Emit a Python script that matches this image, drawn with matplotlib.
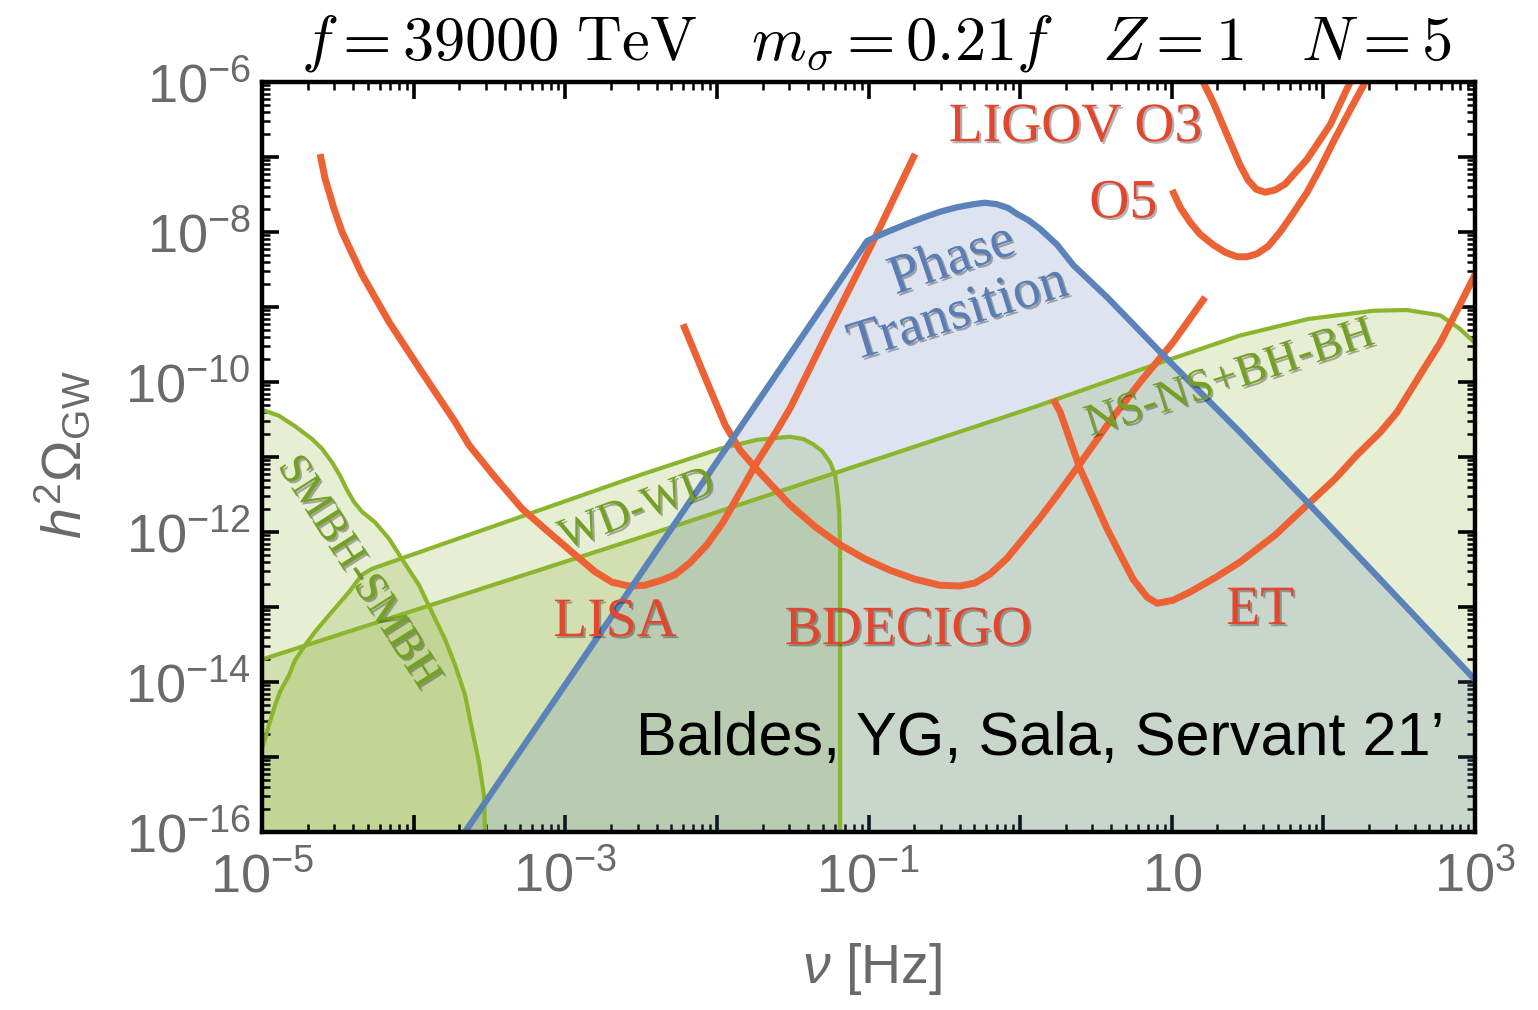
import numpy as np
import matplotlib
matplotlib.use("Agg")
import matplotlib.pyplot as plt
import matplotlib.patheffects as pe
from matplotlib.ticker import FixedLocator, FixedFormatter, LogLocator, NullFormatter

plt.rcParams['font.family'] = ['Liberation Sans', 'DejaVu Sans']
plt.rcParams['mathtext.fontset'] = 'custom'
plt.rcParams['mathtext.rm'] = 'Liberation Sans'
plt.rcParams['mathtext.it'] = 'Liberation Sans:italic'
plt.rcParams['mathtext.bf'] = 'Liberation Sans:bold'

# ---- detector sensitivity curves: log10(f/Hz), log10(h^2 Omega_GW) ----
lisa_logf = [-4.617, -4.584, -4.525, -4.472, -4.340, -4.162, -3.945, -3.727, -3.635, -3.463,
             -3.285, -3.133, -2.955, -2.803, -2.691, -2.579, -2.474, -2.361, -2.276, -2.177,
             -2.065, -1.959, -1.847, -1.735, -1.629, -1.517, -1.273, -0.970, -0.693]
lisa_logo = [-6.96, -7.29, -7.69, -8.00, -8.57, -9.20, -9.87, -10.53, -10.84, -11.27,
             -11.69, -11.96, -12.27, -12.53, -12.67, -12.72, -12.71, -12.64, -12.57, -12.41,
             -12.17, -11.87, -11.47, -11.07, -10.73, -10.35, -9.35, -8.13, -6.96]

bdecigo_logf = [-2.223, -2.065, -1.946, -1.847, -1.735, -1.517, -1.352, -1.187, -1.022, -0.858,
                -0.693, -0.528, -0.396, -0.297, -0.198, -0.086, 0.020, 0.132, 0.244, 0.416,
                0.594, 0.792, 1.009, 1.220]
bdecigo_logo = [-9.23, -10.00, -10.57, -10.91, -11.17, -11.64, -11.93, -12.17, -12.36, -12.51,
                -12.63, -12.71, -12.72, -12.68, -12.56, -12.35, -12.09, -11.81, -11.51, -11.03,
                -10.52, -10.00, -9.47, -8.87]

et_logf = [0.218, 0.264, 0.396, 0.574, 0.745, 0.838, 0.904, 1.009, 1.121, 1.286, 1.451,
           1.682, 1.893, 2.078, 2.223, 2.375, 2.487, 2.658, 2.770, 2.883, 3.000]
et_logo = [-10.23, -10.40, -11.16, -11.96, -12.63, -12.87, -12.95, -12.91, -12.80, -12.61,
           -12.40, -12.04, -11.64, -11.29, -10.97, -10.67, -10.40, -9.84, -9.48, -9.04, -8.57]

o3_logf = [1.207, 1.273, 1.366, 1.451, 1.504, 1.557, 1.616, 1.682, 1.748, 1.893, 2.045, 2.177]
o3_logo = [-6.00, -6.27, -6.71, -7.11, -7.31, -7.43, -7.47, -7.44, -7.36, -7.03, -6.57, -6.00]

o5_logf = [1.003, 1.055, 1.121, 1.187, 1.273, 1.352, 1.431, 1.497, 1.563, 1.636, 1.715,
           1.801, 1.893, 1.979, 2.065, 2.177, 2.276]
o5_logo = [-7.44, -7.67, -7.87, -8.03, -8.17, -8.27, -8.33, -8.33, -8.29, -8.19, -8.00,
           -7.75, -7.47, -7.15, -6.80, -6.37, -6.00]

# ---- phase-transition signal ----
pt_logf = [-3.661, -1.009, -0.890, -0.745, -0.627, -0.528, -0.416, -0.310, -0.231, -0.152,
           -0.079, -0.020, 0.053, 0.132, 0.244, 0.350, 0.574, 0.943, 1.451, 1.893, 3.000]
pt_logo = [-16.00, -8.12, -8.01, -7.89, -7.80, -7.73, -7.67, -7.63, -7.61, -7.63,
           -7.68, -7.76, -7.84, -7.96, -8.17, -8.44, -8.87, -9.64, -10.67, -11.60, -13.97]

# ---- astrophysical foregrounds ----
smbh_logf = [-5.000, -4.888, -4.782, -4.670, -4.604, -4.538, -4.485, -4.439, -4.393, -4.340,
             -4.255, -4.162, -4.077, -3.964, -3.879, -3.793, -3.727, -3.661, -3.615, -3.569,
             -3.536, -3.529]
smbh_logo = [-10.37, -10.45, -10.59, -10.76, -10.89, -11.07, -11.25, -11.44, -11.60, -11.73,
             -11.87, -12.09, -12.36, -12.71, -13.07, -13.43, -13.77, -14.17, -14.63, -15.07,
             -15.51, -16.00]

wd_logf = [-5.000, -4.980, -4.954, -4.914, -4.881, -4.822, -4.782, -4.716, -4.650, -4.558,
           -4.426, -4.340, -4.274, -2.507, -1.979, -1.735, -1.517, -1.431, -1.365, -1.306,
           -1.253, -1.220, -1.207, -1.194, -1.187, -1.187]
wd_logo = [-14.89, -14.76, -14.57, -14.31, -14.13, -13.91, -13.71, -13.51, -13.33, -13.11,
           -12.80, -12.57, -12.49, -11.24, -10.89, -10.77, -10.73, -10.76, -10.83, -10.92,
           -11.07, -11.24, -11.43, -11.71, -12.17, -16.00]

ns_logf = [-5.00, -2.50, 0.10, 0.90, 1.45, 1.90, 2.33, 2.55, 2.77, 2.90, 3.00]
ns_logo = [-13.70, -12.07, -10.33, -9.76, -9.38, -9.16, -9.05, -9.04, -9.11, -9.29, -9.48]

xtick_exp = [-5, -4, -3, -2, -1, 0, 1, 2, 3]
xtick_labels = [r'$10^{-5}$', '', r'$10^{-3}$', '', r'$10^{-1}$', '', r'$10$', '', r'$10^{3}$']
ytick_exp = [-16, -15, -14, -13, -12, -11, -10, -9, -8, -7, -6]
ytick_labels = [r'$10^{-16}$', '', r'$10^{-14}$', '', r'$10^{-12}$', '', r'$10^{-10}$', '',
                r'$10^{-8}$', '', r'$10^{-6}$']

RED = '#ec6234'
RED_TXT = '#e2462d'
BLUE = '#5b82b9'
BLUE_TXT = '#5a7db5'
GREEN = '#8cb52e'
GREEN_TXT = '#74a025'
GREEN_FILL = '#82aa28'
BLUE_FILL = '#5578af'
GREY = '#6a6a6a'

p10 = lambda a: 10.0 ** np.asarray(a, dtype=float)
F_MIN, F_MAX, O_MIN, O_MAX = 1e-5, 1e3, 1e-16, 1e-6

fig = plt.figure(figsize=(15.38, 10.10), dpi=100)
ax = fig.add_axes([262 / 1538, 178 / 1010, 1213 / 1538, 750 / 1010])
ax.set_xscale('log')
ax.set_yscale('log')
ax.set_xlim(F_MIN, F_MAX)
ax.set_ylim(O_MIN, O_MAX)

# filled foreground regions
fa = dict(facecolor=GREEN_FILL, alpha=0.2, edgecolor='none', zorder=1)
ax.fill(np.r_[p10(smbh_logf), F_MIN], np.r_[p10(smbh_logo), O_MIN], **fa)
ax.fill(np.r_[p10(wd_logf), F_MIN], np.r_[p10(wd_logo), O_MIN], **fa)
ax.fill(np.r_[p10(ns_logf), F_MAX, F_MIN], np.r_[p10(ns_logo), O_MIN, O_MIN], **fa)
ax.fill(np.r_[p10(pt_logf), F_MAX], np.r_[p10(pt_logo), O_MIN],
        facecolor=BLUE_FILL, alpha=0.2, edgecolor='none', zorder=2)

# boundaries
gl = dict(color=GREEN, lw=3.0, zorder=3, solid_capstyle='butt', solid_joinstyle='round')
ax.plot(p10(smbh_logf), p10(smbh_logo), **gl)
ax.plot(p10(wd_logf), p10(wd_logo), **gl)
ax.plot(p10(ns_logf), p10(ns_logo), **gl)

rl = dict(color=RED, lw=5.0, zorder=4, solid_capstyle='butt', solid_joinstyle='round')
for lf, lo in [(lisa_logf, lisa_logo), (bdecigo_logf, bdecigo_logo), (et_logf, et_logo),
               (o3_logf, o3_logo), (o5_logf, o5_logo)]:
    ax.plot(p10(lf), p10(lo), **rl)

ax.plot(p10(pt_logf), p10(pt_logo), color=BLUE, lw=4.5, zorder=5, solid_joinstyle='round')

# ticks and frame
ax.xaxis.set_major_locator(FixedLocator(p10(xtick_exp)))
ax.xaxis.set_major_formatter(FixedFormatter(xtick_labels))
ax.yaxis.set_major_locator(FixedLocator(p10(ytick_exp)))
ax.yaxis.set_major_formatter(FixedFormatter(ytick_labels))
ax.xaxis.set_minor_locator(LogLocator(base=10, subs=np.arange(2, 10), numticks=40))
ax.yaxis.set_minor_locator(LogLocator(base=10, subs=np.arange(2, 10), numticks=40))
ax.xaxis.set_minor_formatter(NullFormatter())
ax.yaxis.set_minor_formatter(NullFormatter())
ax.tick_params(which='both', direction='in', top=True, right=True, colors='black',
               labelcolor=GREY, labelsize=39)
ax.tick_params(which='major', length=12, width=2.6)
ax.tick_params(which='minor', length=6, width=1.8)
ax.tick_params(axis='x', which='major', pad=14)
ax.tick_params(axis='y', which='major', pad=8)
for s in ax.spines.values():
    s.set_linewidth(3.2)
    s.set_zorder(10)

shadow = [pe.withSimplePatchShadow(offset=(1.5, -1.5), shadow_rgbFace='k', alpha=0.3)]
serif = ['Liberation Serif', 'DejaVu Serif']

def label(x, y, s, color, size, rot=0):
    ax.text(x, y, s, color=color, fontsize=size, family=serif, rotation=rot,
            rotation_mode='anchor', ha='center', va='center', zorder=8,
            path_effects=shadow)

label(2.13e-3, 6.3e-14, 'LISA', RED_TXT, 40)
label(0.182, 4.9e-14, 'BDECIGO', RED_TXT, 40)
label(38.3, 9.1e-14, 'ET', RED_TXT, 40)
label(2.31, 2.5e-7, 'LIGOV O3', RED_TXT, 40)
label(4.78, 2.4e-8, 'O5', RED_TXT, 40)
label(0.356, 4.2e-9, 'Phase', BLUE_TXT, 40, 19)
label(0.39, 8.1e-10, 'Transition', BLUE_TXT, 40, 17)
label(2.98e-3, 1.95e-12, 'WD-WD', GREEN_TXT, 32, 21)
label(24.3, 1.1e-10, 'NS-NS+BH-BH', GREEN_TXT, 33, 18)
label(4.3e-5, 2.9e-13, 'SMBH-SMBH', GREEN_TXT, 32, -57.5)

ax.text(0.975, 0.1027, 'Baldes, YG, Sala, Servant 21\u2019', transform=ax.transAxes,
        ha='right', va='baseline', fontsize=44, color='black', zorder=9)

fig.text(877 / 1538, 1 - 60 / 1010,
         r'$f = 39000\ \mathrm{TeV}\quad m_\sigma = 0.21f\quad Z = 1\quad N = 5$',
         ha='center', va='baseline', fontsize=45, math_fontfamily='cm', color='black')
fig.text(63 / 1538, 1 - 455 / 1010, r'$h^2\Omega_{\mathrm{GW}}$', rotation=90,
         ha='center', va='center', fontsize=40, color=GREY)
fig.text(872 / 1538, 1 - 969 / 1010, r'$\nu$ [Hz]', ha='center', va='center',
         fontsize=40, color=GREY)

fig.savefig('out.png', dpi=100)
